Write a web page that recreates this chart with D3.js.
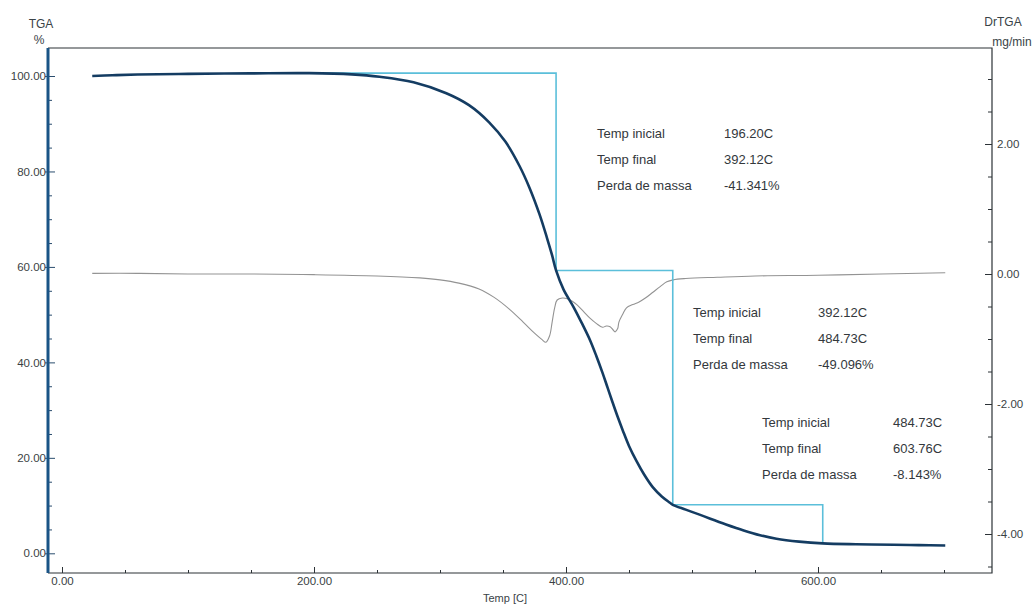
<!DOCTYPE html>
<html>
<head>
<meta charset="utf-8">
<script src="https://cdn.jsdelivr.net/npm/d3@7"></script>
<style>
  html, body { margin: 0; padding: 0; background: #fff; }
  svg { display: block; font-family: "Liberation Sans", Arial, sans-serif; }
  .tick text { fill: #3a3f44; font-size: 11.5px; }
  .ann { fill: #33383c; font-size: 13px; }
  .axlab { fill: #3a4347; font-size: 12px; }
</style>
</head>
<body>
<svg id="chart" width="1034" height="606"></svg>
<script>
// Thermogravimetric curve: temperature (°C) and residual mass (%)
const tgaTemp = [24, 40, 60, 100, 150, 196.2, 230, 252, 279, 305, 323, 339, 352, 363, 371, 379, 385, 389, 392.12,
  398, 406, 413, 419, 424, 429, 433, 437, 441, 445, 450, 456, 462, 469, 476, 482.5, 484.73, 495, 506, 514, 527,
  541, 554, 567, 585, 603.76, 630, 660, 680, 701];
const tgaMass = [100.0, 100.15, 100.3, 100.45, 100.55, 100.6, 100.35, 99.85, 98.7, 96.4, 93.9, 90.3, 86.2, 81.2, 76.6, 71.0, 66.0, 62.4, 59.26,
  55.3, 51.6, 48.0, 44.7, 41.4, 37.8, 34.7, 31.6, 28.6, 25.8, 22.5, 19.3, 16.5, 13.8, 11.9, 10.6, 10.16, 9.15, 8.1, 7.3, 6.05,
  4.8, 3.8, 3.05, 2.45, 2.08, 1.9, 1.8, 1.72, 1.65];

// First derivative (DrTGA): temperature (°C) and rate (mg/min)
const dtgTemp = [24, 60, 100, 150, 200, 250, 284, 300, 315, 331, 343, 355, 366, 375, 381, 384, 387, 389, 391, 393, 397,
  401, 405, 409, 414, 419, 424, 429, 432, 435, 437, 439, 441, 442, 445, 448, 453, 458, 463, 469, 475, 480, 485,
  495, 520, 550, 600, 650, 701];
const dtgRate = [0.01, 0.01, 0.0, 0.0, -0.01, -0.03, -0.06, -0.09, -0.14, -0.23, -0.36, -0.54, -0.74, -0.91, -1.01, -1.05, -0.95, -0.74, -0.52, -0.40, -0.37,
  -0.38, -0.42, -0.48, -0.58, -0.68, -0.76, -0.82, -0.80, -0.81, -0.85, -0.89, -0.84, -0.74, -0.62, -0.52, -0.47, -0.43, -0.37, -0.28, -0.19, -0.12, -0.09,
  -0.07, -0.05, -0.03, -0.02, 0.0, 0.02];

// Mass-loss steps: onset, end and loss of each stage
const stepStart = [196.20, 392.12, 484.73];
const stepEnd = [392.12, 484.73, 603.76];
const massLoss = [-41.341, -49.096, -8.143];
const stepTopMass = 100.6;
const annLabels = ["Temp inicial", "Temp final", "Perda de massa"];

// Tick values
const tempTicks = [0, 200, 400, 600];
const massTicks = [0, 20, 40, 60, 80, 100];
const rateTicks = [-4, -2, 0, 2];

const svg = d3.select("#chart");
const frame = { left: 48, right: 992, top: 48, bottom: 573 };

const x = d3.scaleLinear().domain([0, 600]).range([62, 818]);
const yL = d3.scaleLinear().domain([0, 100]).range([553.3, 76]);
const yR = d3.scaleLinear().domain([-4, 2]).range([534, 144]);

const fmt2 = v => v.toFixed(2);

// Frame (top, right, bottom)
svg.append("path")
  .attr("d", `M${frame.left},${frame.top}H${frame.right}V${frame.bottom}H${frame.left}`)
  .attr("fill", "none").attr("stroke", "#2c3236").attr("stroke-width", 1.2);

// Minor ticks
const minorTemp = d3.range(50, 701, 50).filter(v => v % 200 !== 0);
const minorMass = d3.range(5, 100, 5).filter(v => v % 20 !== 0);
const minorRate = d3.range(-4.5, 3.01, 0.5).filter(v => Math.abs(v % 2) > 0.01);

function styleAxis(g, color) {
  g.select(".domain").remove();
  g.selectAll(".tick line").attr("stroke", color).attr("stroke-width", 1);
}

// Bottom temperature axis
svg.append("g").attr("transform", `translate(0,${frame.bottom})`)
  .call(d3.axisBottom(x).tickValues(minorTemp).tickSizeInner(-3).tickFormat(""))
  .call(g => styleAxis(g, "#2c3236"));
svg.append("g").attr("transform", `translate(0,${frame.bottom})`)
  .call(d3.axisBottom(x).tickValues(tempTicks).tickSizeInner(-6).tickPadding(4).tickFormat(fmt2))
  .call(g => styleAxis(g, "#2c3236"));

// Left TGA axis
svg.append("g").attr("transform", `translate(${frame.left},0)`)
  .call(d3.axisLeft(yL).tickValues(minorMass).tickSizeInner(-4).tickFormat(""))
  .call(g => styleAxis(g, "#2b4d6e"));
svg.append("g").attr("transform", `translate(${frame.left},0)`)
  .call(d3.axisLeft(yL).tickValues(massTicks).tickSizeInner(-7).tickPadding(2).tickFormat(fmt2))
  .call(g => styleAxis(g, "#2b4d6e"))
  .call(g => g.selectAll(".tick line").attr("x1", -3));

// Right DrTGA axis
svg.append("g").attr("transform", `translate(${frame.right},0)`)
  .call(d3.axisRight(yR).tickValues(minorRate).tickSizeInner(-4).tickFormat(""))
  .call(g => styleAxis(g, "#2c3236"));
svg.append("g").attr("transform", `translate(${frame.right},0)`)
  .call(d3.axisRight(yR).tickValues(rateTicks).tickSizeInner(-7).tickPadding(5).tickFormat(fmt2))
  .call(g => styleAxis(g, "#2c3236"));

// Thick left spine in the TGA colour
svg.append("line")
  .attr("x1", frame.left).attr("x2", frame.left)
  .attr("y1", frame.top).attr("y2", frame.bottom)
  .attr("stroke", "#1a5486").attr("stroke-width", 3);

// Axis titles
svg.append("text").attr("class", "axlab").attr("x", 41).attr("y", 28).attr("text-anchor", "middle").text("TGA");
svg.append("text").attr("class", "axlab").attr("x", 39).attr("y", 44).attr("text-anchor", "middle").text("%");
svg.append("text").attr("class", "axlab").attr("x", 1003).attr("y", 26).attr("text-anchor", "middle").text("DrTGA");
svg.append("text").attr("class", "axlab").attr("x", 1012).attr("y", 46).attr("text-anchor", "middle").text("mg/min");
svg.append("text").attr("class", "axlab").attr("x", 505).attr("y", 602).attr("text-anchor", "middle")
  .style("font-size", "11px").text("Temp [C]");

// DrTGA curve
const dtgData = dtgTemp.map((t, i) => [t, dtgRate[i]]);
svg.append("path").datum(dtgData)
  .attr("fill", "none").attr("stroke", "#939393").attr("stroke-width", 1.1)
  .attr("d", d3.line().x(d => x(d[0])).y(d => yR(d[1])).curve(d3.curveCatmullRom.alpha(0.5)));

// Stepwise mass-loss construction
const stepPts = [];
let level = stepTopMass;
stepStart.forEach((s, i) => {
  if (i === 0) stepPts.push([s, level]);
  stepPts.push([stepEnd[i], level]);
  level = level + massLoss[i];
  stepPts.push([stepEnd[i], level]);
});
svg.append("path").datum(stepPts)
  .attr("fill", "none").attr("stroke", "#5bbfda").attr("stroke-width", 1.6)
  .attr("d", d3.line().x(d => x(d[0])).y(d => yL(d[1])));

// TGA curve
const tgaData = tgaTemp.map((t, i) => [t, tgaMass[i]]);
svg.append("path").datum(tgaData)
  .attr("fill", "none").attr("stroke", "#143c62").attr("stroke-width", 2.6)
  .attr("stroke-linejoin", "round")
  .attr("d", d3.line().x(d => x(d[0])).y(d => yL(d[1])).curve(d3.curveCatmullRom.alpha(0.5)));

// Stage annotations
const annPos = [
  { lx: 597, vx: 724, y: 133 },
  { lx: 693, vx: 818, y: 312 },
  { lx: 762, vx: 893, y: 422 }
];
stepStart.forEach((s, i) => {
  const p = annPos[i];
  const vals = [s.toFixed(2) + "C", stepEnd[i].toFixed(2) + "C", massLoss[i].toFixed(3) + "%"];
  annLabels.forEach((lab, j) => {
    svg.append("text").attr("class", "ann").attr("x", p.lx).attr("y", p.y + j * 26).attr("dy", "0.35em").text(lab);
    svg.append("text").attr("class", "ann").attr("x", p.vx).attr("y", p.y + j * 26).attr("dy", "0.35em").text(vals[j]);
  });
});
</script>
</body>
</html>
